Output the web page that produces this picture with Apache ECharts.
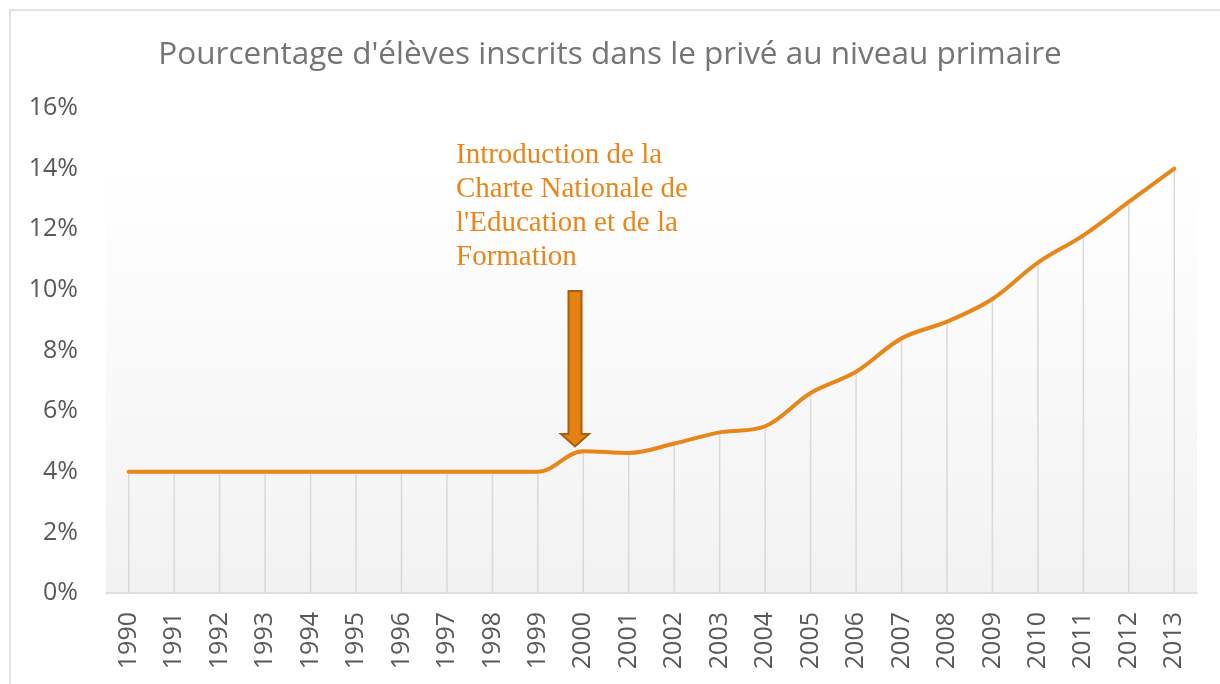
<!DOCTYPE html>
<html>
<head>
<meta charset="utf-8">
<script src="https://cdn.jsdelivr.net/npm/echarts@6/dist/echarts.min.js"></script>
<style>
  html, body { margin: 0; padding: 0; background: #fff; }
  #chart { width: 1220px; height: 684px; }
</style>
</head>
<body>
<div id="chart"></div>
<script>
// données
let years = ['1990', '1991', '1992', '1993', '1994', '1995', '1996', '1997', '1998', '1999', '2000', '2001',
    '2002', '2003', '2004', '2005', '2006', '2007', '2008', '2009', '2010', '2011', '2012', '2013'];
let privatePct = [4.0, 4.0, 4.0, 4.0, 4.0, 4.0, 4.0, 4.0, 4.0, 4.0, 4.68, 4.62,
    4.93, 5.3, 5.5, 6.6, 7.3, 8.4, 8.95, 9.7, 10.9, 11.8, 12.9, 14.0];
let yTicks = [0, 2, 4, 6, 8, 10, 12, 14, 16];

let myChart = echarts.init(document.getElementById('chart'));

let option = {
    backgroundColor: '#fff',
    animation: false,
    title: {
        text: "Pourcentage d'élèves inscrits dans le privé au niveau primaire",
        left: 'center',
        top: 34,
        textStyle: {
            fontFamily: 'Open Sans',
            fontSize: 31.5,
            fontWeight: 'normal',
            color: '#757575'
        }
    },
    grid: {
        left: 106,
        right: 23,
        top: 108,
        bottom: 91
    },
    graphic: [
        // cadre du graphique
        {
            type: 'rect',
            shape: { x: 10, y: 10, width: 1220, height: 700 },
            style: { fill: 'none', stroke: '#d9d9d9', lineWidth: 1.5 },
            z: -10
        },
        // fond dégradé de la zone de tracé
        {
            type: 'rect',
            shape: { x: 106, y: 170, width: 1091, height: 423 },
            style: {
                fill: new echarts.graphic.LinearGradient(0, 0, 0, 1, [
                    { offset: 0, color: '#ffffff' },
                    { offset: 1, color: '#f2f2f2' }
                ])
            },
            z: -5
        },
        // annotation
        {
            type: 'text',
            left: 456,
            top: 138,
            style: {
                text: "Introduction de la\nCharte Nationale de\nl'Education et de la\nFormation",
                fontFamily: 'Liberation Serif',
                fontSize: 29,
                lineHeight: 34,
                fill: '#e8861a'
            },
            z: 10
        },
        // flèche
        {
            type: 'polygon',
            shape: {
                points: [[568.5, 291], [581.5, 291], [581.5, 434], [589, 434], [575, 446.5],
                    [561, 434], [568.5, 434]]
            },
            style: { fill: '#e5820f', stroke: '#a65e10', lineWidth: 2 },
            z: 10
        }
    ],
    xAxis: {
        type: 'category',
        data: years,
        boundaryGap: true,
        axisLine: { lineStyle: { color: '#d9d9d9', width: 1.5 } },
        axisTick: { show: false },
        axisLabel: {
            rotate: 90,
            margin: 19,
            fontFamily: 'Open Sans',
            fontSize: 25,
            color: '#595959'
        },
        splitLine: { show: false }
    },
    yAxis: {
        type: 'value',
        min: 0,
        max: 16,
        interval: 2,
        axisLine: { show: false },
        axisTick: { show: false },
        splitLine: { show: false },
        axisLabel: {
            margin: 28,
            fontFamily: 'Open Sans',
            fontSize: 25,
            color: '#595959',
            formatter: function (v) {
                return yTicks.includes(v) ? v + '%' : '';
            }
        }
    },
    series: [
        {
            // lignes de rappel verticales
            type: 'bar',
            data: privatePct,
            barWidth: 1.5,
            itemStyle: { color: '#d9d9d9' },
            silent: true,
            z: 1
        },
        {
            type: 'line',
            data: privatePct,
            smooth: 0.35,
            symbol: 'none',
            lineStyle: { color: '#e8861a', width: 4, cap: 'round' },
            z: 5
        }
    ]
};

myChart.setOption(option);
</script>
</body>
</html>
